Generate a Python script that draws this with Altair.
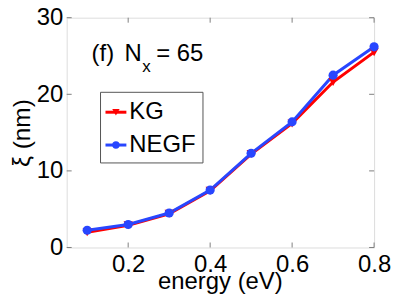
import altair as alt
import pandas as pd

energy = [0.1, 0.2, 0.3, 0.4, 0.5, 0.6, 0.7, 0.8]
kg = [2.0, 2.9, 4.4, 7.4, 12.2, 16.2, 21.6, 25.5]
negf = [2.25, 3.0, 4.5, 7.5, 12.3, 16.4, 22.5, 26.2]
series = ["KG", "NEGF"]
colors = ["#ff0000", "#2846ff"]
shapes = ["triangle-down", "circle"]
xticks = [0.2, 0.4, 0.6, 0.8]
yticks = [0, 10, 20, 30]
xtitle = "energy (eV)"
ytitle = "ξ (nm)"

FONT = "Liberation Sans"
W, H = 309, 231

df = pd.DataFrame(
    {"energy": energy * 2, "xi": kg + negf, "series": [series[0]] * 8 + [series[1]] * 8}
)

xs = alt.Scale(domain=[0.05, 0.8], nice=False)
ys = alt.Scale(domain=[0, 30], nice=False)
cs = alt.Scale(domain=series, range=colors)
ss = alt.Scale(domain=series, range=shapes)

xax = alt.Axis(values=xticks, format=".1f", ticks=False, domain=False, grid=False,
               labelFlush=False, labelOverlap=False,
               labelFontSize=24, labelFont=FONT, labelColor="black", labelPadding=5,
               title=None)
yax = alt.Axis(values=yticks, ticks=False, domain=False, grid=False,
               labelFlush=False, labelOverlap=False,
               labelFontSize=24, labelFont=FONT, labelColor="black", labelPadding=4,
               title=ytitle, titleFontSize=24.5, titleFont=FONT, titleFontWeight="normal",
               titleColor="black", titlePadding=2)

base = alt.Chart(df)

lines = base.mark_line(strokeWidth=3).encode(
    x=alt.X("energy:Q", scale=xs, axis=xax),
    y=alt.Y("xi:Q", scale=ys, axis=yax),
    color=alt.Color("series:N", scale=cs, legend=None),
    order=alt.Order("energy:Q"),
    detail="series:N",
)
pts = base.mark_point(filled=True, size=85, opacity=1).encode(
    x=alt.X("energy:Q", scale=xs),
    y=alt.Y("xi:Q", scale=ys),
    color=alt.Color("series:N", scale=cs, legend=None),
    shape=alt.Shape("series:N", scale=ss, legend=None),
)

tc = "#7f7f7f"
xt = pd.DataFrame({"t": xticks})
yt = pd.DataFrame({"t": yticks})
xb = alt.Chart(xt).mark_rule(color=tc, strokeWidth=1).encode(
    x=alt.X("t:Q", scale=xs), y=alt.value(H), y2=alt.value(H - 5))
xtop = alt.Chart(xt).mark_rule(color=tc, strokeWidth=1).encode(
    x=alt.X("t:Q", scale=xs), y=alt.value(0), y2=alt.value(5))
yl = alt.Chart(yt).mark_rule(color=tc, strokeWidth=1).encode(
    y=alt.Y("t:Q", scale=ys), x=alt.value(0), x2=alt.value(5))
yr = alt.Chart(yt).mark_rule(color=tc, strokeWidth=1).encode(
    y=alt.Y("t:Q", scale=ys), x=alt.value(W), x2=alt.value(W - 5))

def txt(s, x, y, fs, align="left"):
    return alt.Chart(pd.DataFrame({"t": [s]})).mark_text(
        font=FONT, fontSize=fs, align=align, baseline="alphabetic", color="black"
    ).encode(text="t:N", x=alt.value(x), y=alt.value(y))

# x axis title
xtt = txt(xtitle, W / 2, 273, 24, align="center")

# annotation "(f)  N_x = 65"
ann1 = txt("(f)", 25, 44, 24)
ann2 = txt("N", 58, 44, 24)
ann3 = txt("x", 76, 55, 17)
ann4 = txt("= 65", 90, 44, 24)

# legend
lx0, ly0, lx1, ly1 = 34, 75, 137, 146
box = alt.Chart(pd.DataFrame({"a": [0]})).mark_rect(
    fill="white", stroke="#555555", strokeWidth=1
).encode(x=alt.value(lx0), x2=alt.value(lx1), y=alt.value(ly0), y2=alt.value(ly1))
leg_rows = []
for i, s in enumerate(series):
    leg_rows.append({"series": s, "yy": 95 + i * 33})
ld = pd.DataFrame(leg_rows)
lcol = alt.Color("series:N", scale=cs, legend=None)
legline = alt.Chart(ld).mark_rule(strokeWidth=3).encode(
    x=alt.value(39), x2=alt.value(60), y=alt.Y("yy:Q", scale=None), color=lcol)
legpt = alt.Chart(ld).mark_point(filled=True, size=55, opacity=1).encode(
    x=alt.value(49.5), y=alt.Y("yy:Q", scale=None), color=lcol,
    shape=alt.Shape("series:N", scale=ss, legend=None))
legtxt = alt.Chart(ld).mark_text(
    font=FONT, fontSize=24, align="left", baseline="middle", color="black"
).encode(x=alt.value(63), y=alt.Y("yy:Q", scale=None), text="series:N")

chart = alt.layer(
    xb, xtop, yl, yr, lines, pts, xtt, ann1, ann2, ann3, ann4, box, legline, legpt, legtxt
).properties(
    width=W, height=H,
    autosize=alt.AutoSizeParams(type="none"),
    padding={"left": 59, "top": 9, "right": 17, "bottom": 47},
).configure_view(stroke=tc, strokeWidth=1).configure(background="white")

chart.save("out.html", embed_options={"renderer": "svg", "actions": False})
